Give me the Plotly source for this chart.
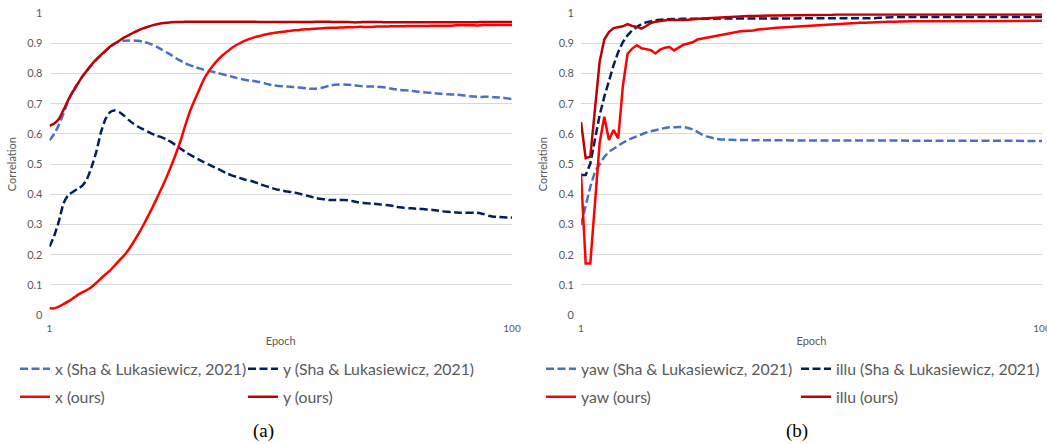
import plotly.graph_objects as go

# ---------------- data ----------------
epochs = list(range(1, 101))

# (a) x / y correlation per epoch
x_sha = [0.579, 0.600, 0.630, 0.668, 0.710, 0.742, 0.766, 0.790, 0.810, 0.828,
         0.845, 0.860, 0.875, 0.889, 0.900, 0.906, 0.909, 0.910, 0.910, 0.909,
         0.906, 0.902, 0.896, 0.889, 0.880, 0.871, 0.862, 0.852, 0.843, 0.835,
         0.828, 0.823, 0.818, 0.813, 0.809, 0.806, 0.802, 0.798, 0.794, 0.790,
         0.786, 0.782, 0.779, 0.777, 0.775, 0.772, 0.768, 0.764, 0.761, 0.759,
         0.758, 0.757, 0.756, 0.755, 0.753, 0.751, 0.750, 0.750, 0.752, 0.756,
         0.760, 0.763, 0.764, 0.764, 0.763, 0.762, 0.760, 0.758, 0.757, 0.757,
         0.757, 0.756, 0.754, 0.751, 0.748, 0.746, 0.745, 0.744, 0.742, 0.740,
         0.738, 0.737, 0.736, 0.734, 0.733, 0.732, 0.731, 0.730, 0.729, 0.727,
         0.725, 0.724, 0.723, 0.723, 0.723, 0.722, 0.721, 0.720, 0.718, 0.716]

y_sha = [0.226, 0.262, 0.310, 0.370, 0.397, 0.408, 0.418, 0.428, 0.450, 0.490,
         0.540, 0.605, 0.650, 0.673, 0.678, 0.672, 0.660, 0.646, 0.634, 0.624,
         0.616, 0.608, 0.600, 0.594, 0.589, 0.582, 0.574, 0.563, 0.552, 0.541,
         0.532, 0.523, 0.515, 0.507, 0.499, 0.492, 0.485, 0.477, 0.469, 0.463,
         0.458, 0.453, 0.448, 0.445, 0.440, 0.434, 0.429, 0.424, 0.419, 0.415,
         0.412, 0.409, 0.407, 0.404, 0.400, 0.396, 0.392, 0.388, 0.385, 0.383,
         0.381, 0.381, 0.381, 0.381, 0.380, 0.377, 0.374, 0.372, 0.370, 0.369,
         0.368, 0.366, 0.365, 0.363, 0.360, 0.357, 0.355, 0.354, 0.353, 0.352,
         0.351, 0.350, 0.348, 0.346, 0.344, 0.342, 0.341, 0.340, 0.339, 0.339,
         0.339, 0.339, 0.338, 0.334, 0.329, 0.326, 0.325, 0.324, 0.323, 0.323]

x_ours = [0.022, 0.022, 0.028, 0.036, 0.045, 0.055, 0.066, 0.075, 0.083, 0.093,
          0.106, 0.121, 0.135, 0.148, 0.165, 0.182, 0.198, 0.218, 0.242, 0.268,
          0.295, 0.325, 0.355, 0.388, 0.420, 0.455, 0.492, 0.532, 0.575, 0.625,
          0.672, 0.710, 0.745, 0.780, 0.806, 0.827, 0.845, 0.860, 0.873, 0.885,
          0.895, 0.903, 0.910, 0.916, 0.921, 0.925, 0.929, 0.932, 0.935, 0.937,
          0.939, 0.941, 0.943, 0.944, 0.946, 0.947, 0.948, 0.949, 0.950, 0.951,
          0.952, 0.952, 0.953, 0.953, 0.954, 0.954, 0.955, 0.955, 0.955, 0.955,
          0.956, 0.956, 0.956, 0.957, 0.957, 0.957, 0.957, 0.958, 0.958, 0.958,
          0.958, 0.958, 0.959, 0.959, 0.959, 0.959, 0.959, 0.960, 0.960, 0.960,
          0.960, 0.960, 0.960, 0.961, 0.961, 0.961, 0.961, 0.961, 0.961, 0.961]

y_ours = [0.627, 0.635, 0.650, 0.680, 0.712, 0.740, 0.765, 0.790, 0.810, 0.830,
          0.847, 0.862, 0.876, 0.890, 0.900, 0.910, 0.920, 0.928, 0.936, 0.943,
          0.950, 0.955, 0.960, 0.964, 0.967, 0.969, 0.970, 0.971, 0.971, 0.972,
          0.972, 0.972, 0.972, 0.972, 0.972, 0.972, 0.972, 0.972, 0.972, 0.972,
          0.972, 0.972, 0.972, 0.972, 0.972, 0.971, 0.971, 0.971, 0.971, 0.971,
          0.971, 0.971, 0.971, 0.971, 0.971, 0.971, 0.971, 0.972, 0.972, 0.972,
          0.972, 0.971, 0.971, 0.971, 0.971, 0.970, 0.970, 0.971, 0.971, 0.971,
          0.971, 0.971, 0.970, 0.970, 0.970, 0.970, 0.970, 0.970, 0.970, 0.970,
          0.970, 0.970, 0.970, 0.970, 0.970, 0.970, 0.970, 0.970, 0.970, 0.970,
          0.970, 0.970, 0.971, 0.971, 0.971, 0.971, 0.971, 0.971, 0.971, 0.971]

# (b) yaw / illumination correlation per epoch
yaw_sha = [0.298, 0.359, 0.425, 0.475, 0.502, 0.524, 0.541, 0.552, 0.562, 0.571,
           0.580, 0.586, 0.593, 0.600, 0.605, 0.609, 0.613, 0.617, 0.620, 0.622,
           0.623, 0.624, 0.623, 0.620, 0.615, 0.607, 0.598, 0.592, 0.587, 0.584,
           0.582, 0.581, 0.580, 0.580, 0.580, 0.580, 0.579, 0.579, 0.579, 0.579,
           0.579, 0.579, 0.578, 0.578, 0.578, 0.578, 0.578, 0.578, 0.578, 0.578,
           0.577, 0.577, 0.577, 0.577, 0.577, 0.577, 0.577, 0.577, 0.577, 0.577,
           0.577, 0.577, 0.577, 0.577, 0.577, 0.577, 0.577, 0.577, 0.577, 0.577,
           0.577, 0.577, 0.577, 0.577, 0.577, 0.577, 0.577, 0.577, 0.577, 0.577,
           0.577, 0.577, 0.577, 0.577, 0.577, 0.577, 0.577, 0.577, 0.577, 0.577,
           0.577, 0.577, 0.577, 0.577, 0.577, 0.577, 0.577, 0.577, 0.577, 0.577]

illu_sha = [0.464, 0.464, 0.502, 0.580, 0.662, 0.723, 0.778, 0.828, 0.872, 0.905,
            0.927, 0.944, 0.955, 0.964, 0.970, 0.974, 0.977, 0.979, 0.980, 0.981,
            0.981, 0.981, 0.982, 0.982, 0.982, 0.983, 0.983, 0.983, 0.983, 0.983,
            0.984, 0.984, 0.984, 0.984, 0.984, 0.984, 0.984, 0.984, 0.984, 0.984,
            0.984, 0.984, 0.984, 0.984, 0.984, 0.984, 0.984, 0.984, 0.984, 0.984,
            0.984, 0.984, 0.984, 0.984, 0.984, 0.984, 0.984, 0.984, 0.984, 0.984,
            0.984, 0.984, 0.984, 0.984, 0.985, 0.986, 0.988, 0.988, 0.988, 0.988,
            0.988, 0.988, 0.988, 0.988, 0.988, 0.988, 0.988, 0.988, 0.988, 0.988,
            0.988, 0.988, 0.988, 0.988, 0.988, 0.988, 0.988, 0.988, 0.988, 0.988,
            0.988, 0.988, 0.988, 0.988, 0.988, 0.988, 0.988, 0.988, 0.988, 0.988]

yaw_ours = [0.469, 0.171, 0.171, 0.370, 0.570, 0.657, 0.580, 0.613, 0.585, 0.760,
            0.866, 0.883, 0.894, 0.884, 0.881, 0.878, 0.867, 0.880, 0.886, 0.888,
            0.877, 0.888, 0.896, 0.900, 0.904, 0.913, 0.916, 0.918, 0.921, 0.924,
            0.927, 0.931, 0.935, 0.938, 0.940, 0.941, 0.941, 0.943, 0.946, 0.948,
            0.949, 0.951, 0.952, 0.953, 0.954, 0.955, 0.956, 0.958, 0.959, 0.960,
            0.961, 0.962, 0.963, 0.964, 0.965, 0.966, 0.966, 0.967, 0.967, 0.968,
            0.969, 0.969, 0.970, 0.970, 0.971, 0.971, 0.972, 0.972, 0.973, 0.973,
            0.974, 0.974, 0.974, 0.974, 0.974, 0.975, 0.975, 0.975, 0.975, 0.975,
            0.975, 0.975, 0.975, 0.975, 0.975, 0.975, 0.975, 0.975, 0.975, 0.975,
            0.975, 0.975, 0.975, 0.975, 0.975, 0.975, 0.975, 0.975, 0.975, 0.975]

illu_ours = [0.640, 0.520, 0.525, 0.680, 0.839, 0.913, 0.938, 0.951, 0.955, 0.957,
             0.964, 0.958, 0.955, 0.949, 0.958, 0.968, 0.972, 0.975, 0.977, 0.979,
             0.978, 0.977, 0.978, 0.979, 0.981, 0.982, 0.983, 0.984, 0.985, 0.986,
             0.987, 0.988, 0.988, 0.989, 0.990, 0.990, 0.991, 0.991, 0.992, 0.992,
             0.993, 0.993, 0.993, 0.993, 0.994, 0.994, 0.994, 0.994, 0.995, 0.995,
             0.995, 0.995, 0.995, 0.995, 0.995, 0.996, 0.996, 0.996, 0.996, 0.996,
             0.996, 0.996, 0.996, 0.996, 0.996, 0.996, 0.996, 0.996, 0.996, 0.996,
             0.996, 0.996, 0.996, 0.996, 0.996, 0.996, 0.996, 0.996, 0.996, 0.996,
             0.996, 0.996, 0.996, 0.996, 0.996, 0.996, 0.996, 0.996, 0.996, 0.996,
             0.996, 0.996, 0.996, 0.996, 0.996, 0.996, 0.996, 0.996, 0.996, 0.996]

y_ticks = [0, 0.1, 0.2, 0.3, 0.4, 0.5, 0.6, 0.7, 0.8, 0.9, 1]
y_tick_text = ["0", "0.1", "0.2", "0.3", "0.4", "0.5", "0.6", "0.7", "0.8", "0.9", "1"]
x_ticks = [1, 100]
x_tick_text = ["1", "100"]

# ---------------- styling ----------------
W, H = 1047, 444
LIGHT_BLUE = "#4472C4"
NAVY = "#002060"
RED = "#FF0000"
DARK_RED = "#C00000"
GRID = "#D9D9D9"
TXT = "#595959"
SANS = "Lato, 'Open Sans', sans-serif"
DASH = "8px,3.5px"
LW = 2.5


def px_x(p):
    return p / W


def px_y(p):
    return 1 - p / H


# legend slot per series: (legend id, left px, row centre px)
ROW1, ROW2 = 369, 397
panel_a = [
    ("x (Sha & Lukasiewicz, 2021)", x_sha, LIGHT_BLUE, DASH, ("legend", 15, ROW1)),
    ("y (Sha & Lukasiewicz, 2021)", y_sha, NAVY, DASH, ("legend2", 243, ROW1)),
    ("x (ours)", x_ours, RED, "solid", ("legend3", 15, ROW2)),
    ("y (ours)", y_ours, DARK_RED, "solid", ("legend4", 243, ROW2)),
]
panel_b = [
    ("yaw (Sha & Lukasiewicz, 2021)", yaw_sha, LIGHT_BLUE, DASH, ("legend5", 541, ROW1)),
    ("illu (Sha & Lukasiewicz, 2021)", illu_sha, NAVY, DASH, ("legend6", 796, ROW1)),
    ("yaw (ours)", yaw_ours, RED, "solid", ("legend7", 541, ROW2)),
    ("illu (ours)", illu_ours, DARK_RED, "solid", ("legend8", 796, ROW2)),
]

fig = go.Figure()
legends = {}
for name, vals, col, dash, (leg, lx, ly) in panel_a:
    fig.add_trace(go.Scatter(
        x=epochs, y=vals, name=name, mode="lines",
        line=dict(color=col, width=LW, dash=dash, shape="spline", smoothing=0.6),
        xaxis="x", yaxis="y", legend=leg, hoverinfo="skip"))
    legends[leg] = (lx, ly)
for name, vals, col, dash, (leg, lx, ly) in panel_b:
    fig.add_trace(go.Scatter(
        x=epochs, y=vals, name=name, mode="lines",
        line=dict(color=col, width=LW, dash=dash),
        xaxis="x2", yaxis="y2", legend=leg, hoverinfo="skip"))
    legends[leg] = (lx, ly)

xa = dict(range=[1, 100], tickvals=x_ticks, ticktext=x_tick_text, showgrid=False,
          zeroline=False, showline=False, ticks="", ticklabelstandoff=6,
          ticklabeloverflow="allow",
          tickfont=dict(family=SANS, size=10, color=TXT),
          title=dict(text="Epoch", font=dict(family=SANS, size=11, color=TXT), standoff=4))
ya = dict(range=[0, 1.0], tickvals=y_ticks, ticktext=y_tick_text, showgrid=True,
          gridcolor=GRID, gridwidth=1, zeroline=False, showline=False, ticks="",
          ticklabelstandoff=6,
          tickfont=dict(family=SANS, size=11, color=TXT),
          title=dict(text="Correlation", font=dict(family=SANS, size=11, color=TXT), standoff=8))

y_dom = [px_y(315), px_y(13.3)]
fig.update_layout(
    width=W, height=H,
    margin=dict(l=0, r=0, t=0, b=0, autoexpand=False),
    paper_bgcolor="white", plot_bgcolor="white",
    xaxis=dict(xa, domain=[px_x(49.5), px_x(512)], anchor="y", automargin=False),
    yaxis=dict(ya, domain=y_dom, anchor="x", automargin=False),
    xaxis2=dict(xa, domain=[px_x(581), px_x(1042)], anchor="y2", automargin=False),
    yaxis2=dict(ya, domain=y_dom, anchor="x2", automargin=False),
    showlegend=True,
)

for leg, (lx, ly) in legends.items():
    fig.update_layout({leg: dict(
        orientation="h", xref="container", yref="container",
        x=px_x(lx), y=px_y(ly), xanchor="left", yanchor="middle",
        bgcolor="rgba(0,0,0,0)", font=dict(family=SANS, size=15.8, color=TXT),
        itemclick=False, itemdoubleclick=False)})

fig.add_annotation(text="(a)", x=px_x(263), y=px_y(431), xref="paper", yref="paper",
                   showarrow=False, xanchor="center", yanchor="middle",
                   font=dict(family="Liberation Serif, 'Times New Roman', serif", size=19, color="black"))
fig.add_annotation(text="(b)", x=px_x(797), y=px_y(431), xref="paper", yref="paper",
                   showarrow=False, xanchor="center", yanchor="middle",
                   font=dict(family="Liberation Serif, 'Times New Roman', serif", size=19, color="black"))

fig.write_html("out.html")
